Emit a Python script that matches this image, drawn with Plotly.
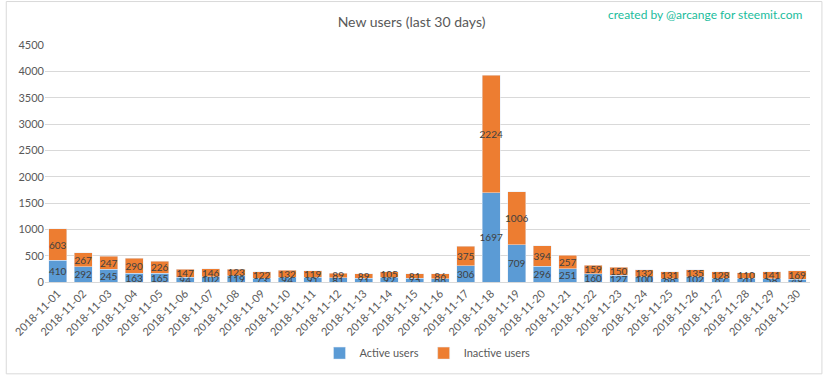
import plotly.graph_objects as go

dates = [f"2018-11-{d:02d}" for d in range(1, 31)]
active = [410, 292, 245, 163, 165, 94, 102, 119, 73, 94, 91, 81, 71, 92, 75, 66,
          306, 1697, 709, 296, 251, 160, 127, 100, 66, 102, 67, 70, 58, 48]
inactive = [603, 267, 247, 290, 226, 147, 146, 123, 122, 132, 119, 89, 89, 105, 81, 86,
            375, 2224, 1006, 394, 257, 159, 150, 132, 131, 135, 128, 110, 141, 169]
yticks = [0, 500, 1000, 1500, 2000, 2500, 3000, 3500, 4000, 4500]

W, H = 823, 379
L, R, T, B = 40, 13, 45, 94
pw, ph = W - L - R, H - T - B

fig = go.Figure()
fig.add_trace(go.Bar(x=dates, y=active, name="Active users", marker_color="#5b9bd5",
                     text=active, textposition="inside", insidetextanchor="middle",
                     textfont=dict(size=10, color="#404040"), textangle=0))
fig.add_trace(go.Bar(x=dates, y=inactive, name="Inactive users", marker_color="#ed7d31",
                     text=inactive, textposition="inside", insidetextanchor="middle",
                     textfont=dict(size=10, color="#404040"), textangle=0))

fig.update_layout(
    barmode="stack", bargap=0.3,
    width=W, height=H,
    margin=dict(l=L, r=R, t=T, b=B),
    paper_bgcolor="white", plot_bgcolor="white",
    font=dict(family="Lato, Open Sans, sans-serif", color="#595959", size=11),
    title=dict(text="New users (last 30 days)", x=0.5, xanchor="center", y=1 - 22 / H,
               yanchor="middle", font=dict(size=14, color="#595959")),
    uniformtext=dict(minsize=10, mode="show"),
    showlegend=True,
    legend=dict(orientation="h", x=0.5, xanchor="center", y=-(357 - T - ph) / ph,
                yanchor="middle", font=dict(size=11, color="#595959"),
                traceorder="normal", itemwidth=30),
    xaxis=dict(tickangle=-45, showgrid=False, showline=True, linecolor="#d9d9d9",
               ticks="", tickfont=dict(size=11), type="category"),
    yaxis=dict(range=[0, 4500], tickvals=yticks, showgrid=True, gridcolor="#d9d9d9",
               zeroline=False, showline=False, tickfont=dict(size=11)),
)

fig.add_shape(type="rect", xref="paper", yref="paper",
              x0=-(L - 1) / pw, x1=1 + (R - 1) / pw, y0=-(B - 1) / ph, y1=1 + (T - 1) / ph,
              line=dict(color="#d9d9d9", width=1), fillcolor="rgba(0,0,0,0)", layer="below")

fig.add_annotation(text="created by @arcange for steemit.com", xref="paper", yref="paper",
                   x=1 + (R - 18) / pw, xanchor="right", y=1 + (T - 14) / ph, yanchor="middle",
                   showarrow=False, font=dict(size=12, color="#1abc9c"))

fig.write_html("out.html", config={"displayModeBar": False},
               post_script="document.body.style.margin='0';document.body.style.overflow='hidden';")
